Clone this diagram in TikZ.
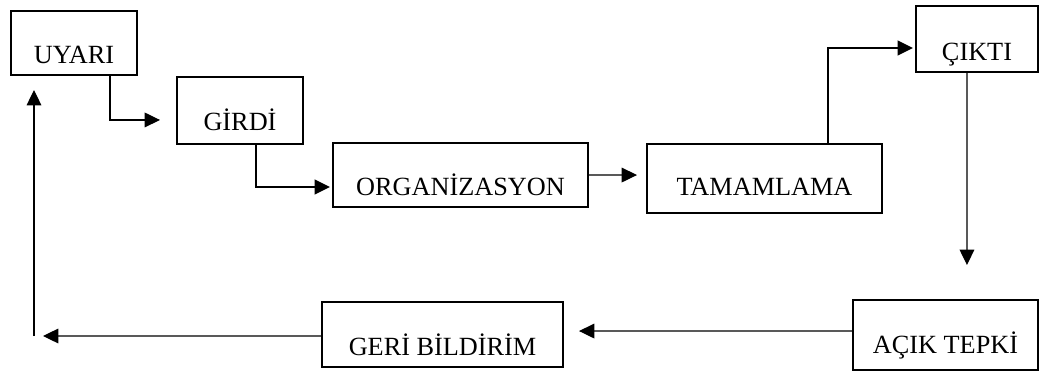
\documentclass[tikz,border=0pt]{standalone}
\usepackage{fontspec}
\setmainfont{Liberation Serif}
\usetikzlibrary{arrows.meta}
\begin{document}
\begin{tikzpicture}[x=0.75pt, y=-0.75pt,
 kutu/.style={draw, line width=1.8pt, inner sep=0pt, outer sep=0pt, anchor=north west, font=\fontsize{19.7}{23}\selectfont},
 ince/.style={-{Triangle[length=11.5pt, width=11pt]}, line width=0.9pt},
 kalin/.style={-{Triangle[length=11.5pt, width=11pt]}, line width=1.6pt}]
 \useasboundingbox (0,0) rectangle (1039,372);
 \node [kutu, minimum width=94.5pt, text height=39pt, text depth=9pt] (uyari) at (11,11) {UYARI};
 \node [kutu, minimum width=94.5pt, text height=39.75pt, text depth=10.5pt] (girdi) at (177,77) {GİRDİ};
 \node [kutu, minimum width=191.25pt, text height=39pt, text depth=9pt] (org) at (333,143) {ORGANİZASYON};
 \node [kutu, minimum width=176.25pt, text height=38.25pt, text depth=13.5pt] (tamamlama) at (647,144) {TAMAMLAMA};
 \node [kutu, minimum width=91.5pt, text height=40.5pt, text depth=9pt] (cikti) at (916,6) {ÇIKTI};
 \node [kutu, minimum width=138.75pt, text height=39.75pt, text depth=12.75pt] (aciktepki) at (853,300) {AÇIK TEPKİ};
 \node [kutu, minimum width=180.75pt, text height=39.75pt, text depth=9pt] (geri) at (322,302) {GERİ BİLDİRİM};
 \coordinate (dirsek) at (34,336);
 \draw [ince] ([xshift=27pt]uyari.south) |- ([xshift=-12.75pt, yshift=-7.1pt]girdi.west);
 \draw [kalin] ([xshift=12pt]girdi.south) |- ([xshift=-2.25pt, yshift=-9pt]org.west);
 \draw [ince] (org.east) -- ([xshift=-7.5pt, yshift=2.6pt]tamamlama.west);
 \draw [kalin] ([xshift=47.6pt]tamamlama.north) |- ([xshift=-2.25pt, yshift=-6.75pt]cikti.west);
 \draw [ince] ([xshift=-7.5pt]cikti.south) -- ([xshift=16.1pt, yshift=26.25pt]aciktepki.north);
 \draw [ince] ([yshift=3pt]aciktepki.west) -- ([xshift=12pt, yshift=2.6pt]geri.east);
 \draw [ince] ([yshift=-1.1pt]geri.west) -- ([xshift=6.75pt]dirsek);
 \draw [ince] (dirsek) -- ([xshift=-30pt, yshift=-11.25pt]uyari.south);
\end{tikzpicture}
\end{document}
